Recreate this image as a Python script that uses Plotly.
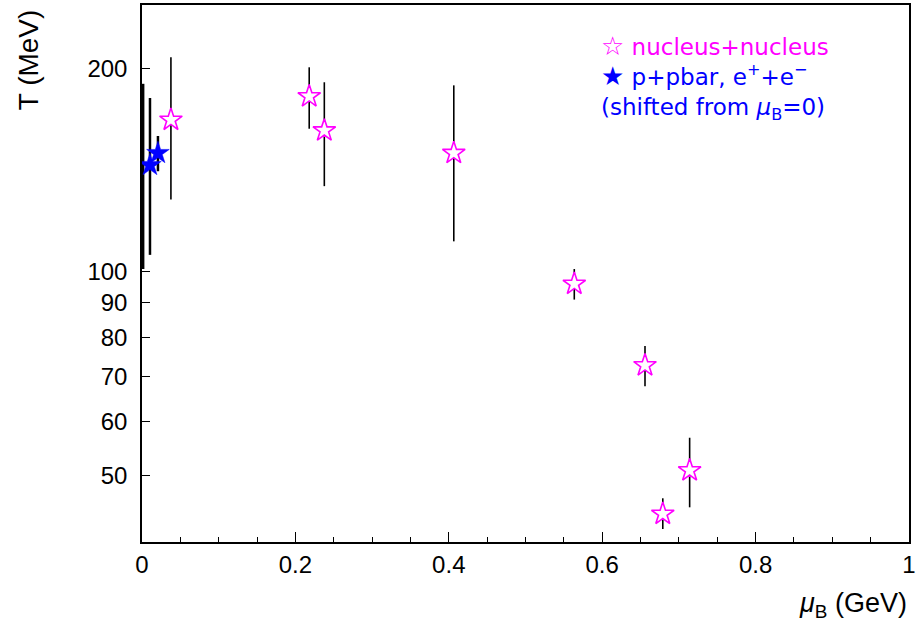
import plotly.graph_objects as go
import math

# nucleus+nucleus (open magenta stars)
aa_mu = [0.0377, 0.218, 0.2377, 0.4065, 0.5636, 0.6558, 0.679, 0.714]
aa_T = [168, 182, 162, 150, 96, 72.7, 43.8, 50.8]
aa_err_up = [40, 19, 29, 39, 5, 5, 2.4, 6]
aa_err_dn = [40, 19, 28, 39, 5, 5, 2.2, 6]

# p+pbar, e+e- (filled blue stars, shifted from mu_B=0)
pp_mu = [0.0104, 0.0208]
pp_T = [144, 150]
pp_err_up = [37, 9]
pp_err_dn = [38, 9]

# error bar drawn at the left edge (no visible marker)
edge_mu = [0.0015]
edge_T = [140]
edge_err_up = [50]
edge_err_dn = [39]

y_ticks = [50, 60, 70, 80, 90, 100, 200]
x_ticks = [0, 0.2, 0.4, 0.6, 0.8, 1.0]
x_ticktext = ["0", "0.2", "0.4", "0.6", "0.8", "1"]

fig = go.Figure()

fig.add_trace(go.Scatter(
    x=edge_mu, y=edge_T, mode="markers",
    marker=dict(size=1, color="rgba(0,0,0,0)"),
    error_y=dict(type="data", array=edge_err_up, arrayminus=edge_err_dn,
                 color="black", thickness=2.5, width=0),
    showlegend=False, hoverinfo="skip"))

fig.add_trace(go.Scatter(
    x=aa_mu, y=aa_T, mode="markers",
    marker=dict(symbol="star", size=17, color="white",
                line=dict(color="#ff00ff", width=1.6)),
    error_y=dict(type="data", array=aa_err_up, arrayminus=aa_err_dn,
                 color="black", thickness=1.6, width=0),
    showlegend=False))

fig.add_trace(go.Scatter(
    x=pp_mu, y=pp_T, mode="markers",
    marker=dict(symbol="star", size=17, color="#0000ff",
                line=dict(color="#0000ff", width=0.5)),
    error_y=dict(type="data", array=pp_err_up, arrayminus=pp_err_dn,
                 color="black", thickness=2.5, width=0),
    showlegend=False))

L, R, T, B = 142, 912, 3, 542
W, H = 919, 632

def px(xp):
    return (xp - L) / (R - L)

def py(yp):
    return (B - yp) / (B - T)

ARIAL = "Arial"
tickfont = dict(family=ARIAL, size=24, color="black")

fig.update_layout(
    width=W, height=H,
    margin=dict(l=L, r=W - R, t=T, b=H - B, pad=0),
    paper_bgcolor="white", plot_bgcolor="white",
    xaxis=dict(range=[0, 1], showgrid=False, zeroline=False,
               showline=True, linecolor="black", linewidth=1.5, mirror=True,
               ticks="inside", ticklen=10, tickwidth=1, tickcolor="black",
               tickvals=x_ticks, ticktext=x_ticktext, tickfont=tickfont,
               ticklabelstandoff=0,
               minor=dict(ticks="inside", ticklen=5, dtick=0.05, tick0=0,
                          tickcolor="black", tickwidth=1, showgrid=False)),
    yaxis=dict(type="log", range=[math.log10(39.8), math.log10(248.6)],
               showgrid=False, zeroline=False,
               showline=True, linecolor="black", linewidth=1.5, mirror=True,
               ticks="inside", ticklen=8, tickwidth=1, tickcolor="black",
               tickvals=y_ticks, ticktext=[str(v) for v in y_ticks],
               tickfont=tickfont, ticklabelstandoff=8),
    font=dict(family="DejaVu Sans, sans-serif"),
    showlegend=False,
)

legend_font = dict(family="DejaVu Sans", size=23)
fig.add_annotation(xref="paper", yref="paper", x=px(601), y=py(44),
                   xanchor="left", yanchor="middle", showarrow=False,
                   text="<span style='font-size:26px'>☆</span> nucleus+nucleus",
                   font=dict(color="#ff00ff", **legend_font))
fig.add_annotation(xref="paper", yref="paper", x=px(601), y=py(74),
                   xanchor="left", yanchor="middle", showarrow=False,
                   text="<span style='font-size:26px'>★</span> p+pbar, e<sup>+</sup>+e<sup>−</sup>",
                   font=dict(color="#0000ff", **legend_font))
fig.add_annotation(xref="paper", yref="paper", x=px(601), y=py(107),
                   xanchor="left", yanchor="middle", showarrow=False,
                   text="(shifted from <i>μ</i><sub>B</sub>=0)",
                   font=dict(color="#0000ff", **legend_font))

# axis titles
fig.add_annotation(xref="paper", yref="paper", x=px(28), y=py(58),
                   xanchor="center", yanchor="middle", showarrow=False,
                   textangle=-90, text="T (MeV)",
                   font=dict(family=ARIAL, size=28, color="black"))
fig.add_annotation(xref="paper", yref="paper", x=px(912), y=py(605),
                   xanchor="right", yanchor="middle", showarrow=False,
                   text="<i>μ</i><sub>B</sub> (GeV)",
                   font=dict(family=ARIAL, size=27, color="black"))

fig.write_html("out.html", config={"displayModeBar": False},
               post_script="document.body.style.margin='0';document.body.style.padding='0';")
